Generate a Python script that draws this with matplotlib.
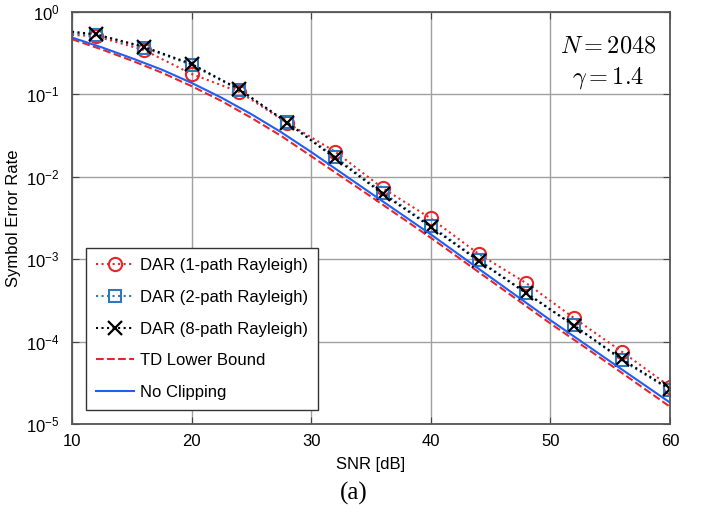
import numpy as np
import matplotlib
matplotlib.use('Agg')
import matplotlib.pyplot as plt

# SNR grid for the DAR simulations (first point has no marker)
snr_dar = [10, 12, 16, 20, 24, 28, 32, 36, 40, 44, 48, 52, 56, 60]
ser_1path = [0.526, 0.51, 0.346, 0.177, 0.107, 0.045, 0.0202, 0.00725, 0.00313,
             1.16e-3, 5.1e-4, 1.92e-4, 7.5e-5, 2.84e-5]
ser_2path = [0.55, 0.53, 0.37, 0.228, 0.113, 0.046, 0.0175, 0.0064, 0.00255,
             9.8e-4, 3.9e-4, 1.57e-4, 5.9e-5, 2.6e-5]
ser_8path = [0.577, 0.536, 0.379, 0.234, 0.115, 0.0454, 0.0168, 0.00618, 0.00247,
             9.55e-4, 3.85e-4, 1.55e-4, 6.1e-5, 2.64e-5]

# analytic curves
snr_ref = [10, 12.5, 15, 17.5, 20, 22.5, 25, 27.5, 30, 35, 40, 45, 50, 55, 60]
ser_td = [0.468, 0.351, 0.257, 0.184, 0.126, 0.0832, 0.0519, 0.0313, 0.0178,
          0.00575, 0.00182, 5.5e-4, 1.66e-4, 5.25e-5, 1.62e-5]
ser_noclip = [0.490, 0.372, 0.275, 0.200, 0.138, 0.0912, 0.0575, 0.0347, 0.0200,
              0.00631, 0.00200, 6.03e-4, 1.82e-4, 5.75e-5, 1.82e-5]

x_ticks = [10, 20, 30, 40, 50, 60]
y_ticks = [1e-5, 1e-4, 1e-3, 1e-2, 1e-1, 1e0]

plt.rcParams['font.family'] = ['Liberation Sans', 'DejaVu Sans']
plt.rcParams['mathtext.fontset'] = 'custom'
plt.rcParams['mathtext.rm'] = 'Liberation Sans'
plt.rcParams['mathtext.it'] = 'Liberation Sans:italic'

fig = plt.figure(figsize=(7.08, 5.14), dpi=100)
ax = fig.add_axes([72 / 708, 1 - 424 / 514, 598 / 708, 412 / 514])

red = '#e8262a'
steel = '#2f78c0'
blue = '#1f5ff5'
ms = 9.5
mk = slice(1, None)

ax.plot(snr_dar, ser_1path, ':', color=red, lw=1.5, marker='o', ms=ms,
        mfc='none', mew=1.5, markevery=mk, label='DAR (1-path Rayleigh)')
ax.plot(snr_dar, ser_2path, ':', color=steel, lw=1.5, marker='s', ms=ms - 1,
        mfc='none', mew=1.5, markevery=mk, label='DAR (2-path Rayleigh)')
ax.plot(snr_dar, ser_8path, ':', color='black', lw=1.5, marker='x', ms=ms,
        mew=1.6, markevery=mk, label='DAR (8-path Rayleigh)')
ax.plot(snr_ref, ser_td, '--', color=red, lw=1.5, label='TD Lower Bound')
ax.plot(snr_ref, ser_noclip, '-', color=blue, lw=1.5, label='No Clipping')

ax.set_yscale('log')
ax.set_xlim(10, 60)
ax.set_ylim(1e-5, 1)
ax.set_xticks(x_ticks)
ax.set_yticks(y_ticks)
ax.set_yticklabels(['10$^{%d}$' % int(np.log10(v)) for v in y_ticks])
ax.yaxis.set_minor_locator(matplotlib.ticker.NullLocator())
ax.tick_params(direction='in', length=5, labelsize=12, top=True, right=True,
               color='#444444')
ax.tick_params(axis='y', pad=9)
ax.tick_params(axis='x', pad=7)
ax.grid(True, color='#a0a0a0', lw=1)
for s in ax.spines.values():
    s.set_color('#555555')
    s.set_linewidth(1.3)

ax.set_xlabel('SNR [dB]', fontsize=12, labelpad=6)
ax.set_ylabel('Symbol Error Rate', fontsize=12)
ax.yaxis.set_label_coords(-0.085, 0.5)

ax.text(0.896, 0.917, '$N = 2048$', transform=ax.transAxes, ha='center',
        va='center', fontsize=17.5, math_fontfamily='cm')
ax.text(0.896, 0.840, r'$\gamma = 1.4$', transform=ax.transAxes, ha='center',
        va='center', fontsize=17.5, math_fontfamily='cm')

leg = ax.legend(loc='lower left', bbox_to_anchor=(0.023, 0.034), fontsize=12,
                fancybox=False, framealpha=1, edgecolor='#333333',
                borderpad=0.6, labelspacing=1.0, handlelength=2.3,
                handletextpad=0.35, borderaxespad=0)
leg.get_frame().set_linewidth(1.0)

fig.text(0.5, 1 - 493 / 514, '(a)', ha='center', va='center', fontsize=18,
         family='Liberation Serif')

fig.savefig('out.png', dpi=100)
